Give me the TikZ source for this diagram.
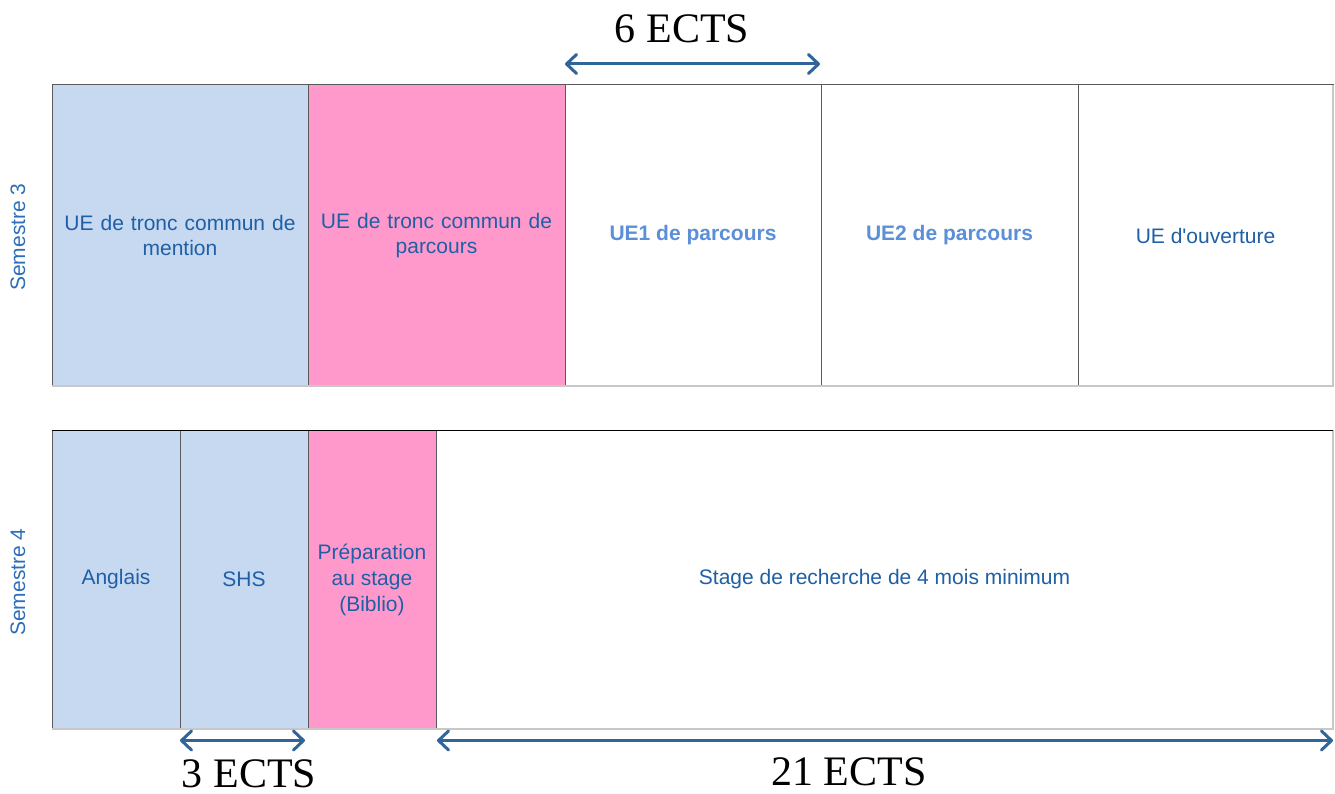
\documentclass[tikz,border=0pt]{standalone}
\usepackage{fontspec}
\setmainfont{Liberation Serif}
\newfontfamily\arialf{Liberation Sans}
\usetikzlibrary{arrows.meta,calc}
\definecolor{lblue}{HTML}{C6D9F0}
\definecolor{lpink}{HTML}{FF99CB}
\definecolor{txtblue}{HTML}{1E5FA6}
\definecolor{boldblue}{HTML}{5B8FD8}
\definecolor{semblue}{HTML}{2C6FB8}
\definecolor{arrblue}{HTML}{2F6599}
\definecolor{edgegray}{HTML}{5A5A5A}
\definecolor{lightedge}{HTML}{C8C8C8}
\tikzset{
  box/.style={rectangle, draw=edgegray, line width=1pt, inner sep=0pt, outer sep=0pt,
    align=center, text=txtblue, font=\arialf\fontsize{21}{25}\selectfont},
  toprow/.style={box, minimum height=301pt},
  botrow/.style={box, minimum height=299pt},
  boldtxt/.style={text=boldblue, font=\arialf\bfseries\fontsize{21}{25}\selectfont},
  semlabel/.style={rotate=90, text=semblue, font=\arialf\fontsize{21}{25}\selectfont},
  ects/.style={anchor=base, font=\fontsize{42}{48}\selectfont, text=black},
  dim/.style={draw=arrblue, line width=3pt, {Straight Barb[length=10pt,width=19pt,round]}-{Straight Barb[length=10pt,width=19pt,round]}}
}
\begin{document}
\begin{tikzpicture}[x=1pt,y=-1pt]
\useasboundingbox (0,0) rectangle (1335,794);
% Semestre 3
\node[toprow, fill=lblue, minimum width=256pt, text width=240pt] (m) at (180,235.5) {UE de tronc commun de\\mention};
\node[toprow, fill=lpink, minimum width=257pt, text width=240pt] (p) at (436.5,235.5) {UE de tronc commun de\\parcours};
\node[toprow, fill=white, minimum width=256pt, boldtxt] (u1) at (693,235.5) {\raisebox{4pt}{UE1 de parcours}};
\node[toprow, fill=white, minimum width=257pt, boldtxt] (u2) at (949.5,235.5) {\raisebox{4pt}{UE2 de parcours}};
\node[toprow, fill=white, minimum width=255pt] (uo) at (1205.5,235.5) {UE d'ouverture};
% Semestre 4
\node[botrow, fill=lblue, minimum width=128pt] (ang) at (116,579.5) {Anglais};
\node[botrow, fill=lblue, minimum width=128pt] (shs) at (244,579.5) {SHS};
\node[botrow, fill=lpink, minimum width=128pt, font=\arialf\fontsize{21}{26}\selectfont] (prep) at (372,579.5) {Préparation\\au stage\\(Biblio)};
\node[botrow, fill=white, minimum width=897pt] (stage) at (884.5,579.5) {Stage de recherche de 4 mois minimum};
% light outer edges
\draw[lightedge, line width=1.5pt] (m.south west) -- (uo.south east) -- (uo.north east);
\draw[lightedge, line width=1.5pt] (ang.south west) -- (stage.south east) -- (stage.north east);
\draw[black, line width=1pt] (ang.north west) -- (stage.north east);
% semester labels
\node[semlabel] (s3) at (18,237) {Semestre 3};
\node[semlabel] (s4) at (18,582) {Semestre 4};
% dimension arrows
\coordinate (a6l) at ($(u1.north west)+(0,-21)$);
\coordinate (a6r) at ($(u1.north east)+(-1,-21)$);
\coordinate (a3l) at ($(shs.south west)+(0,11.5)$);
\coordinate (a3r) at ($(shs.south east)+(-3,11.5)$);
\coordinate (a21l) at ($(stage.south west)+(1,11.5)$);
\coordinate (a21r) at ($(stage.south east)+(0,11.5)$);
\draw[dim] (a6l) -- (a6r);
\draw[dim] (a3l) -- (a3r);
\draw[dim] (a21l) -- (a21r);
\node[ects] (e6) at (682,43) {6 ECTS};
\node[ects] (e3) at (249,787) {3 ECTS};
\node[ects] (e21) at (849,785) {21 ECTS};
\end{tikzpicture}
\end{document}
